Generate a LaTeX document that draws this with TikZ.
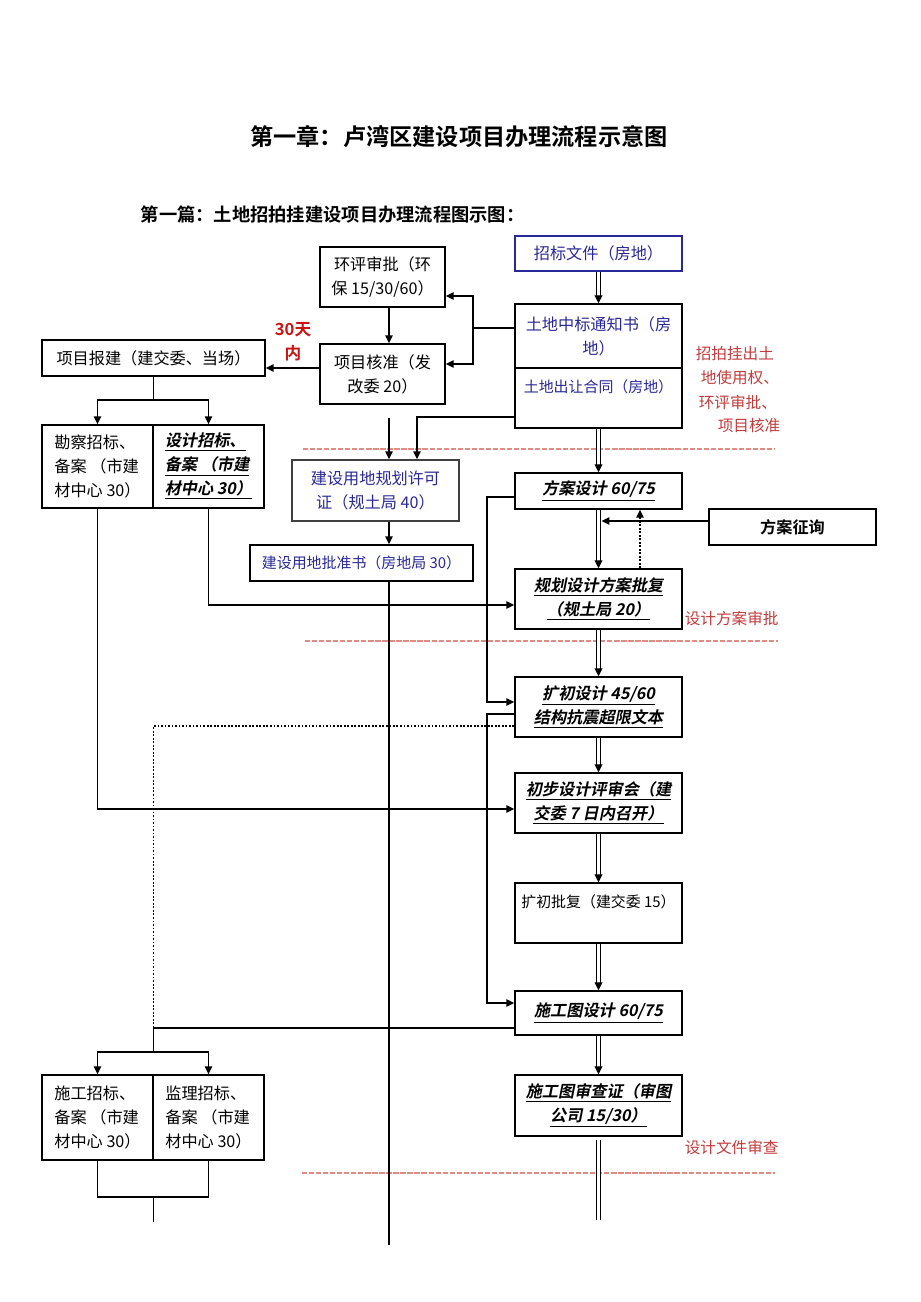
\documentclass[tikz,border=0pt]{standalone}
\usepackage{fontspec}
\setmainfont{Noto Sans CJK SC}[BoldFont={Noto Sans CJK SC Bold},
  ItalicFont={Noto Sans CJK SC}, ItalicFeatures={FakeSlant=0.2},
  BoldItalicFont={Noto Sans CJK SC Bold}, BoldItalicFeatures={FakeSlant=0.2}]
\usetikzlibrary{arrows.meta}
\definecolor{navy}{RGB}{40,40,150}
\definecolor{notered}{RGB}{192,60,60}
\definecolor{dashred}{RGB}{225,140,130}
\definecolor{boldred}{RGB}{200,20,20}
\newcommand\biu[1]{\textbf{\textit{\underline{#1}}}}
\tikzset{
  box/.style={draw, line width=0.9pt, inner sep=0pt, align=center,
    font=\fontsize{9.2}{13.6}\selectfont},
  sz/.style 2 args={minimum width=#1*0.02cm, minimum height=#2*0.02cm},
  small/.style={font=\fontsize{8.5}{13.6}\selectfont},
  arr/.style={line width=0.9pt, -{Triangle[length=4.5pt,width=4.2pt]}},
  dbl/.style={double, double distance=1.5pt, line width=0.6pt, -{Triangle[length=4.5pt,width=4.5pt]}},
  dblline/.style={double, double distance=1.5pt, line width=0.6pt},
  dots/.style={line width=1pt, dash pattern=on 1pt off 1pt},
  reddash/.style={draw=dashred, line width=0.6pt, dash pattern=on 3pt off 1pt},
  redtxt/.style={text=notered, font=\fontsize{8.9}{13.6}\selectfont, inner sep=0pt}
}
\begin{document}
\begin{tikzpicture}[x=0.02cm, y=-0.02cm, line width=0.9pt]
\useasboundingbox (0,0) rectangle (920,1302);
% titles
\node[font=\fontsize{13.2}{15}\selectfont\bfseries] (title) at (459,137) {第一章：卢湾区建设项目办理流程示意图};
\node[anchor=west, inner sep=0pt, font=\fontsize{10.4}{12}\selectfont\bfseries] (subtitle) at (140,215) {第一篇：土地招拍挂建设项目办理流程图示图：};

% boxes
\node[box,sz={167}{35},draw=navy,text=navy] (zhaobiao) at (598.5,253.5) {招标文件（房地）};
\node[box,sz={125}{60}] (huanping) at (382.5,277) {环评审批（环\\保 15/30/60）};
\node[box,sz={167}{64},text=navy] (zhongbiao) at (598.5,336) {土地中标通知书（房\\地）};
\node[box,sz={167}{60},text=navy,small] (churang) at (598.5,398) {土地出让合同（房地）\\\mbox{}};
\node[box,sz={125}{60}] (hezhun) at (382.5,374) {项目核准（发\\改委 20）};
\node[box,sz={223}{36}] (baojian) at (153.5,358) {项目报建（建交委、当场）};
\node[box,sz={111}{83},align=left] (kancha) at (97.5,466.5) {勘察招标、\\备案 （市建\\材中心 30）};
\node[box,sz={111}{83},align=left] (sheji) at (208.5,466.5) {\biu{设计招标、}\\\biu{备案 （市建}\\\biu{材中心 30）}};
\node[box,sz={167}{61},draw=darkgray,text=navy] (guihua) at (375.5,490.5) {建设用地规划许可\\证（规土局 40）};
\node[box,sz={223}{36},text=navy,small] (pizhun) at (361.5,563) {建设用地批准书（房地局 30）};
\node[box,sz={167}{36}] (fangan) at (598.5,491) {\biu{方案设计 60/75}};
\node[box,sz={167}{36}] (zhengxun) at (792.5,527) {\textbf{方案征询}};
\node[box,sz={167}{60}] (pifu) at (598.5,599) {\biu{规划设计方案批复}\\\biu{（规土局 20）}};
\node[box,sz={167}{60}] (kuochu) at (598.5,707) {\biu{扩初设计 45/60}\\\biu{结构抗震超限文本}};
\node[box,sz={167}{60}] (chubu) at (598.5,803) {\biu{初步设计评审会（建}\\\biu{交委 7 日内召开）}};
\node[box,sz={167}{60},small] (kpifu) at (598.5,913) {扩初批复（建交委 15）\\\mbox{}};
\node[box,sz={167}{44}] (sgtsj) at (598.5,1013) {\biu{施工图设计 60/75}};
\node[box,sz={167}{61}] (sczheng) at (598.5,1105.5) {\biu{施工图审查证（审图}\\\biu{公司 15/30）}};
\node[box,sz={111}{85},align=left] (shigong) at (97.5,1117.5) {施工招标、\\备案 （市建\\材中心 30）};
\node[box,sz={111}{85},align=left] (jianli) at (208.5,1117.5) {监理招标、\\备案 （市建\\材中心 30）};

% red notes
\node[text=boldred, align=center, inner sep=0pt, font=\fontsize{9.5}{13.6}\selectfont\bfseries] (days) at (293,342) {30天\\内};
\node[redtxt, anchor=west] (notea) at (695,354) {招拍挂出土};
\node[redtxt, anchor=west] (noteb) at (700,378) {地使用权、};
\node[redtxt, anchor=west] (notec) at (698,402) {环评审批、};
\node[redtxt, anchor=west] (noted) at (717,426) {项目核准};
\node[redtxt, anchor=west] (noteplan) at (684,619) {设计方案审批};
\node[redtxt, anchor=west] (notedoc) at (684,1148) {设计文件审查};
\draw[reddash] (303,449) -- (775,449);
\draw[reddash] (305,641) -- (778,641);
\draw[reddash] (302,1173) -- (775,1173);

% connectors
\draw[dbl] (zhaobiao) -- (zhongbiao);
\draw[arr] (zhongbiao.west |- 0,328) -| (473,296) -- (huanping.east |- 0,296);
\draw[arr] (473,328) |- (hezhun.east |- 0,364);
\draw[arr] (huanping.south -| 389,0) -- (hezhun.north -| 389,0);
\draw[arr] (hezhun.west |- 0,368) -- (baojian.east |- 0,368);
\draw (baojian.south) -- (153.5,400);
\draw[arr] (153.5,400) -| (kancha.north);
\draw[arr] (153.5,400) -| (sheji.north);
\coordinate (hz) at (389,418);
\draw[arr] (hz) -- (guihua.north -| hz);
\draw[arr] (churang.west |- 0,417) -| (guihua.north -| 417,0);
\draw[dbl] (churang) -- (fangan);
\draw[arr] (guihua.south -| 389,0) -- (pizhun.north -| 389,0);
\coordinate (endmid) at (389,1245);
\draw (pizhun.south -| endmid) -- (endmid);
\draw[arr] (sheji.south) |- (pifu.west |- 0,605);
\draw[arr] (kancha.south) |- (chubu.west |- 0,809);
\draw[arr] (fangan.west |- 0,497) -| (487,702) -- (kuochu.west |- 0,702);
\draw[arr] (kuochu.west |- 0,714) -| (487,1003) -- (sgtsj.west |- 0,1003);
\draw[dots] (kuochu.west |- 0,726) -| (153.5,1028);
\draw (sgtsj.west |- 0,1028) -- (153.5,1028) -- (153.5,1052);
\draw[arr] (153.5,1052) -| (shigong.north);
\draw[arr] (153.5,1052) -| (jianli.north);
\draw (shigong.south) -- (97.5,1197) -- (208.5,1197) -- (jianli.south);
\coordinate (endleft) at (153.5,1222);
\draw (153.5,1197) -- (endleft);

\draw[dbl] (fangan) -- (pifu);
\draw[arr] (zhengxun.west |- 0,521) -- (601.5,521);
\draw[dots,-{Triangle[length=4.5pt,width=4.2pt]}] (pifu.north -| 640,0) -- (fangan.south -| 640,0);
\draw[dbl] (pifu) -- (kuochu);
\draw[dbl] (kuochu) -- (chubu);
\draw[dbl] (chubu) -- (kpifu);
\draw[dbl] (kpifu) -- (sgtsj);
\draw[dbl] (sgtsj) -- (sczheng);
\coordinate (endright) at (598.5,1220);
\draw[dblline] (598.5,1140) -- (endright);
\end{tikzpicture}
\end{document}
